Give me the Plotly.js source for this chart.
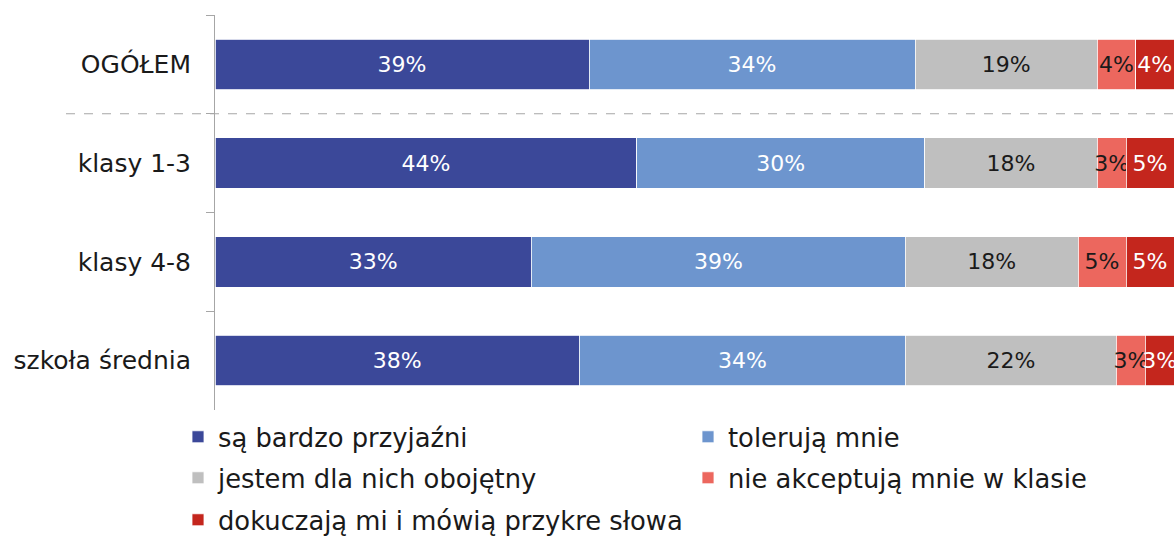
<!DOCTYPE html>
<html>
<head>
<meta charset="utf-8">
<script src="https://cdn.plot.ly/plotly-3.0.1.min.js"></script>
<style>html,body{margin:0;padding:0;background:#fff;}#chart{width:1176px;height:536px;}</style>
</head>
<body>
<div id="chart"></div>
<script>
const categories = ["OGÓŁEM", "klasy 1-3", "klasy 4-8", "szkoła średnia"];
const seriesNames = ["są bardzo przyjaźni", "tolerują mnie", "jestem dla nich obojętny", "nie akceptują mnie w klasie", "dokuczają mi i mówią przykre słowa"];
const przyjazni = [39, 44, 33, 38];
const toleruja = [34, 30, 39, 34];
const obojetny = [19, 18, 18, 22];
const nieAkceptuja = [4, 3, 5, 3];
const dokuczaja = [4, 5, 5, 3];

const colors = ["#3B4899", "#6D95CE", "#BFBFBF", "#EC675E", "#C4261D"];
const textColors = ["#ffffff", "#ffffff", "#1a1a1a", "#1a1a1a", "#ffffff"];
const legends = ["legend", "legend", "legend2", "legend2", "legend3"];
const firstColumn = [true, false, true, false, true];
const values = [przyjazni, toleruja, obojetny, nieAkceptuja, dokuczaja];
const FONT = "DejaVu Sans";

const traces = values.map((v, i) => {
  const t = {
    type: "bar",
    orientation: "h",
    name: seriesNames[i],
    y: categories,
    x: v,
    marker: {color: colors[i], line: {color: "#ffffff", width: 0.8}},
    text: v.map(n => n + "%"),
    texttemplate: "%{text}",
    textposition: "inside",
    insidetextanchor: "middle",
    constraintext: "none",
    textangle: 0,
    insidetextfont: {family: FONT, size: 22, color: textColors[i]},
    cliponaxis: false,
    hoverinfo: "skip",
    legend: legends[i]
  };
  if (firstColumn[i]) t.legendwidth = 465;
  return t;
});

const legendBase = {
  orientation: "h",
  xanchor: "left",
  yanchor: "middle",
  x: (178 - 215) / 959,
  font: {family: FONT, size: 25.8, color: "#1a1a1a"},
  bgcolor: "rgba(0,0,0,0)",
  borderwidth: 0,
  traceorder: "normal"
};

const layout = {
  width: 1176,
  height: 536,
  margin: {l: 215, r: 2, t: 15, b: 126, autoexpand: false},
  paper_bgcolor: "#ffffff",
  plot_bgcolor: "#ffffff",
  barmode: "stack",
  bargap: 0.49,
  showlegend: true,
  font: {family: FONT, size: 24, color: "#1a1a1a"},
  xaxis: {range: [0, 100], visible: false, fixedrange: true},
  yaxis: {
    type: "category",
    range: [3.5, -0.5],
    showline: true,
    linecolor: "#A6A6A6",
    linewidth: 1,
    ticks: "outside",
    tickson: "boundaries",
    ticklen: 8,
    tickcolor: "#A6A6A6",
    tickwidth: 1,
    showgrid: false,
    zeroline: false,
    ticklabelstandoff: 18,
    tickfont: {family: FONT, size: 25, color: "#1a1a1a"},
    fixedrange: true
  },
  legend: Object.assign({}, legendBase, {y: (410 - 437) / 395}),
  legend2: Object.assign({}, legendBase, {y: (410 - 478) / 395}),
  legend3: Object.assign({}, legendBase, {y: (410 - 520) / 395}),
  shapes: [{
    type: "line",
    xref: "paper",
    yref: "y",
    x0: (66 - 215) / 959,
    x1: 1,
    y0: 0.5,
    y1: 0.5,
    line: {color: "#A6A6A6", width: 1, dash: "dash"}
  }]
};

Plotly.newPlot("chart", traces, layout, {displayModeBar: false, staticPlot: true});
</script>
</body>
</html>
